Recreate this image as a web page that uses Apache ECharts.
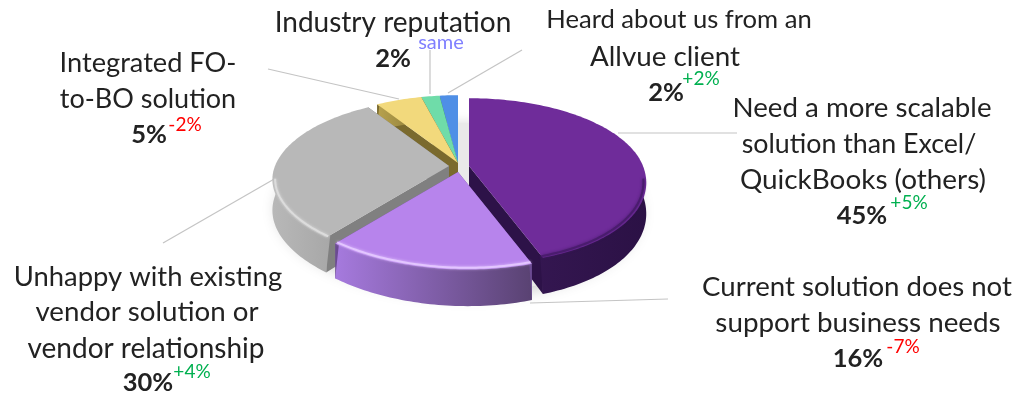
<!DOCTYPE html>
<html>
<head>
<meta charset="utf-8">
<title>Reasons for choosing a new solution</title>
<script src="https://cdn.jsdelivr.net/npm/echarts@6/dist/echarts.min.js"></script>
<style>
  html, body { margin: 0; padding: 0; background: #fff; }
  #chart { width: 1019px; height: 395px; }
</style>
</head>
<body>
<div id="chart"></div>
<script>
// Reasons, clockwise from twelve o'clock
const reasonLines = [
  ['Need a more scalable', 'solution than Excel/', 'QuickBooks (others)'],
  ['Current solution does not', 'support business needs'],
  ['Unhappy with existing', 'vendor solution or', 'vendor relationship'],
  ['Integrated FO-', 'to-BO solution'],
  ['Industry reputation'],
  ['Heard about us from an', 'Allvue client']
];
const shares = [45, 16, 30, 5, 2, 2];
const changes = ['+5%', '-7%', '+4%', '-2%', 'same', '+2%'];

// Slice appearance, in the same order as the reasons
const topColors = ['#6f2c9a', '#b784ec', '#b8b8b8', '#f2d97c', '#6fdca9', '#4f8fe6'];
const cutColors = ['#2d1248', '#6b4a92', '#808080', '#7a6a2e', '#3f8a66', '#2f5f9f'];
const wallStops = [
  ['#3a1a58', '#2b1145'],
  ['#a67ade', '#594272'],
  ['#b8b8b8', '#9c9c9c'],
  ['#b8a24e', '#8a7a38'],
  ['#4ea57e', '#3f8a66'],
  ['#3a70bb', '#2f5f9f']
];
const rimColors = ['#4a1c6e', '#e3c6ff', '#dcdcdc', '#f2d97c', '#6fdca9', '#4f8fe6'];
const explode = [[11, 3], [0, 9], [-9, 3], [0, 0], [0, 0], [0, 0]];
// Back-to-front order: each slice hides the cut face of the one painted before it
const paintRank = [4, 5, 3, 2, 1, 0];

// Tilted-disc projection: far edge foreshortened, near edge enlarged and leaning right
const disc = { cx: 458, cy: 163, rx: 174, ry: 80, perspective: 0.18, depth: 30, lean: 10 };

function project(theta, radius, dx, dy) {
  const u = Math.sin(theta) * radius;
  const v = Math.cos(theta) * radius;
  const f = 1 / (1 + disc.perspective * v);
  const lean = v < 0 ? disc.lean * v * v : 0;
  return {
    x: disc.cx + dx + disc.rx * u * f + lean,
    y: disc.cy + dy - disc.ry * v * f,
    drop: disc.depth * f
  };
}
const sampleArc = (from, to, radius, dx, dy) => {
  const steps = Math.max(2, Math.ceil(Math.abs(to - from) / 0.02));
  const pts = [];
  for (let i = 0; i <= steps; i++) {
    pts.push(project(from + (to - from) * i / steps, radius, dx, dy));
  }
  return pts;
};
const flat = pts => pts.map(p => [p.x, p.y]);
const dropped = pts => pts.map(p => [p.x, p.y + p.drop]);

const total = shares.reduce((a, b) => a + b, 0);
let running = 0;
const sliceRows = shares.map(value => {
  const row = [value, running];
  running += value;
  return row;
});

function renderSlice(params, api) {
  const i = params.dataIndex;
  const value = api.value(0);
  const start = api.value(1) / total * Math.PI * 2;
  const end = start + value / total * Math.PI * 2;
  const [dx, dy] = explode[i];
  const base = paintRank[i] * 10;
  const arc = sampleArc(start, end, 1, dx, dy);
  const inner = sampleArc(start, end, 0.97, dx, dy);
  const apex = project(0, 0, dx, dy);
  const children = [];

  const quad = edge => ({
    type: 'polygon',
    z2: base + 1,
    shape: { points: [[apex.x, apex.y], [edge.x, edge.y], [edge.x, edge.y + edge.drop], [apex.x, apex.y + apex.drop]] },
    style: { fill: cutColors[i] }
  });
  children.push(quad(arc[0]), quad(arc[arc.length - 1]));

  // Outer wall starts slightly inside the rim so no light seam shows along the join
  children.push({
    type: 'polygon',
    z2: base + 2,
    shape: { points: flat(inner).concat(dropped(arc).reverse()) },
    style: {
      fill: new echarts.graphic.LinearGradient(0, 0, 1, 0, [
        { offset: 0, color: wallStops[i][0] },
        { offset: 1, color: wallStops[i][1] }
      ])
    }
  });

  children.push({
    type: 'polygon',
    z2: base + 3,
    shape: { points: [[apex.x, apex.y]].concat(flat(arc)) },
    style: { fill: topColors[i] }
  });

  // Soft bevel along the part of the rim that faces the viewer
  const nearFrom = Math.max(start, Math.PI * 0.55);
  const nearTo = Math.min(end, Math.PI * 1.45);
  if (nearTo > nearFrom) {
    children.push({
      type: 'polyline',
      z2: base + 4,
      shape: { points: flat(sampleArc(nearFrom, nearTo, 0.985, dx, dy)) },
      style: {
        fill: null,
        stroke: rimColors[i],
        lineWidth: 2,
        shadowColor: rimColors[i],
        shadowBlur: 3
      }
    });
  }
  return { type: 'group', children };
}

function renderGround() {
  const ring = sampleArc(0, Math.PI * 2, 1.02, 0, disc.depth - 1);
  return {
    type: 'polygon',
    shape: { points: flat(ring) },
    style: { fill: '#e9e9e9', shadowColor: 'rgba(0,0,0,0.22)', shadowBlur: 16, shadowOffsetY: 3 }
  };
}

// Label anchors: centre and font size of each text line, then percent and change positions
const labelLayout = [
  { lines: [[862, 108, 27.7], [859, 144, 26.8], [863, 180, 27.9]], pct: [862, 216], chg: [909, 203] },
  { lines: [[857, 287, 27.6], [858, 323, 27.8]], pct: [858, 359], chg: [903, 347] },
  { lines: [[148, 277, 27.4], [147, 312, 27.7], [146, 349, 28]], pct: [148, 383], chg: [192, 372] },
  { lines: [[148, 63, 27.2], [148, 99, 27]], pct: [149, 135], chg: [185, 125] },
  { lines: [[393, 23, 28]], pct: [393, 59], chg: [441, 43] },
  { lines: [[679, 20, 25.6], [665, 57, 27.8]], pct: [666, 93], chg: [701, 79] }
];
const leaders = [
  [[618, 133], [737, 133]],
  [[530, 303], [668, 299]],
  [[163, 243], [276, 178]],
  [[268, 69], [399, 99]],
  [[430, 50], [430, 94]],
  [[448, 93], [522, 50]]
];
const changeColor = c => c === 'same' ? '#8080ff' : (c[0] === '+' ? '#00b050' : '#ff0000');
const FONT = 'Lato, "Open Sans", sans-serif';

const textEl = (str, pos, style) => ({
  type: 'text',
  z: 5,
  x: pos[0],
  y: pos[1],
  style: Object.assign({ text: str, align: 'center', verticalAlign: 'middle', fontFamily: FONT }, style)
});

const graphics = [];
leaders.forEach(seg => {
  graphics.push({
    type: 'line',
    z: 1,
    shape: { x1: seg[0][0], y1: seg[0][1], x2: seg[1][0], y2: seg[1][1] },
    style: { stroke: '#c4c4c4', lineWidth: 1.2 }
  });
});
reasonLines.forEach((lines, i) => {
  const at = labelLayout[i];
  lines.forEach((line, j) => {
    const [x, y, size] = at.lines[j];
    graphics.push(textEl(line, [x, y], { fill: '#222222', fontSize: size }));
  });
  graphics.push(textEl(shares[i] + '%', at.pct, { fill: '#222222', fontSize: 25.5, fontWeight: 'bold' }));
  graphics.push(textEl(changes[i], at.chg, { fill: changeColor(changes[i]), fontSize: changes[i] === 'same' ? 20 : 19 }));
});

const chart = echarts.init(document.getElementById('chart'), null, { renderer: 'canvas' });
chart.setOption({
  animation: false,
  backgroundColor: '#ffffff',
  tooltip: { show: false },
  graphic: { elements: graphics },
  series: [
    {
      type: 'custom',
      z: 0,
      silent: true,
      coordinateSystem: 'none',
      renderItem: renderGround,
      data: [0]
    },
    {
      type: 'custom',
      z: 2,
      silent: true,
      coordinateSystem: 'none',
      renderItem: renderSlice,
      data: sliceRows
    }
  ]
});
</script>
</body>
</html>
